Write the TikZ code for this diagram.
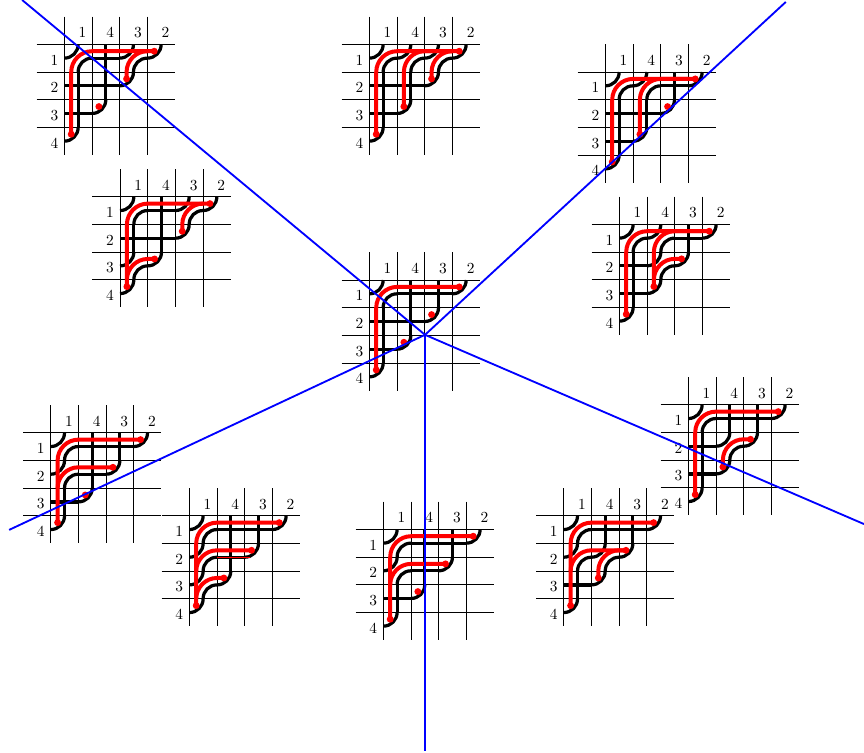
\documentclass[tikz,border=0pt]{standalone}
\usepackage{xcolor}
\usetikzlibrary{calc}
\definecolor{strand}{HTML}{FF0000}
\definecolor{wall}{HTML}{0000FF}
\tikzset{rule/.style={line width=0.4pt},pipe/.style={line width=2.1pt},redpipe/.style={line width=2.6pt,color=strand},wallline/.style={line width=1.2pt,color=wall},numlab/.style={inner sep=0pt}}
% tiles, #1 = column, #2 = row, counted from 0
\newcommand{\cornerA}[2]{\draw[pipe](#1,#2+.5) .. controls (#1+.28,#2+.5) and (#1+.5,#2+.28) .. (#1+.5,#2);}
\newcommand{\cornerB}[2]{\draw[pipe](#1+.5,#2+1) .. controls (#1+.5,#2+.72) and (#1+.72,#2+.5) .. (#1+1,#2+.5);}
\newcommand{\bumptile}[2]{\cornerA{#1}{#2}\cornerB{#1}{#2}}
\newcommand{\crosstile}[2]{\draw[pipe](#1,#2+.5)--(#1+1,#2+.5);\draw[pipe](#1+.5,#2)--(#1+.5,#2+1);}
% red: up a column and along a row, #1 = column, #2 = bottom, #3 = row, #4 = right end
\newcommand{\redrun}[4]{\draw[redpipe](#1,#2)--(#1,#3+.75) .. controls (#1,#3+.34) and (#1+.34,#3) .. (#1+.75,#3)--(#4,#3);}
\newcommand{\reddot}[2]{\fill[strand](#1,#2) circle (.125);}
% #1,#2 = origin, #3 = name, #4 = bump tiles, #5 = cross tiles, #6 = red parts
\newcommand{\pipedream}[6]{%
\begin{scope}[shift={(#1,#2)},name prefix=#3-]
\foreach \i in {0,1,2,3}{\draw[rule](\i,-1)--(\i,4);\draw[rule](-1,\i)--(4,\i);}
\foreach \i/\j in {0/1,1/4,2/3,3/2}{\node[numlab] (top\j) at (\i+.66,-.42) {\j};}
\foreach \i in {1,2,3,4}{\node[numlab] (left\i) at (-.36,\i-.43) {\i};}
\foreach \i in {0,1,2,3}{\pgfmathtruncatemacro{\k}{3-\i}\cornerA{\i}{\k}}
\foreach \i/\j in {#4}{\bumptile{\i}{\j}}
\foreach \i/\j in {#5}{\crosstile{\i}{\j}}
\redrun{.25}{3.25}{.25}{3.25}
\reddot{.25}{3.25}\reddot{1.25}{2.25}\reddot{2.25}{1.25}\reddot{3.25}{.25}
#6
\end{scope}}

\begin{document}
\begin{tikzpicture}[x=0.6325cm,y=-0.6325cm]
\useasboundingbox (0,0) rectangle (31.225,27.213);
\pipedream{2.324}{1.601}{aa}{0/0,2/0}{1/0,0/1,1/1,0/2}{\redrun{2.25}{1.25}{.25}{3}}
\pipedream{13.347}{1.601}{ab}{0/0,1/0,2/0}{0/1,1/1,0/2}{\redrun{1.25}{2.25}{.25}{3}\redrun{2.25}{1.25}{.25}{3}}
\pipedream{21.876}{2.602}{ac}{0/0,1/0}{2/0,0/1,1/1,0/2}{\redrun{1.25}{2.25}{.25}{3}}
\pipedream{4.337}{7.109}{ad}{0/0,2/0,0/2}{1/0,0/1,1/1}{\redrun{2.25}{1.25}{.25}{3}\redrun{.25}{3}{2.25}{1.25}}
\pipedream{13.347}{10.119}{ae}{0/0}{1/0,2/0,0/1,1/1,0/2}{}
\pipedream{22.382}{8.106}{af}{0/0,1/0,1/1}{2/0,0/1,0/2}{\redrun{1.25}{2.25}{.25}{3}\redrun{1.25}{2}{1.25}{2.25}}
\pipedream{1.832}{15.638}{ag}{0/0,0/1}{1/0,2/0,1/1,0/2}{\redrun{.25}{2}{1.25}{2.25}}
\pipedream{6.841}{18.638}{ah}{0/0,0/1,0/2}{1/0,2/0,1/1}{\redrun{.25}{2}{1.25}{2.25}\redrun{.25}{3}{2.25}{1.25}\draw[strand,line width=0.8pt](1,1.5)--(2.2,1.5);}
\pipedream{13.852}{19.129}{ai}{0/0,0/1}{1/0,2/0,1/1,0/2}{\redrun{.25}{2}{1.25}{2.25}}
\pipedream{20.372}{18.638}{aj}{0/0,0/1,1/1}{1/0,2/0,0/2}{\redrun{.25}{2}{1.25}{2.25}\redrun{1.25}{2.25}{1.25}{2.25}}
\pipedream{24.875}{14.626}{ak}{0/0,1/1}{1/0,2/0,0/1,0/2}{\redrun{1.25}{2.25}{1.25}{2.25}}
% walls
\coordinate (hub) at (15.36,12.1);
\coordinate (nw) at (.8,0);
\coordinate (ne) at (28.4,.07);
\coordinate (se) at (31.225,18.94);
\coordinate (so) at (15.36,27.14);
\coordinate (sw) at (.33,19.15);
\foreach \e in {nw,ne,se,so,sw}{\draw[wallline](hub)--(\e);}
\end{tikzpicture}
\end{document}
